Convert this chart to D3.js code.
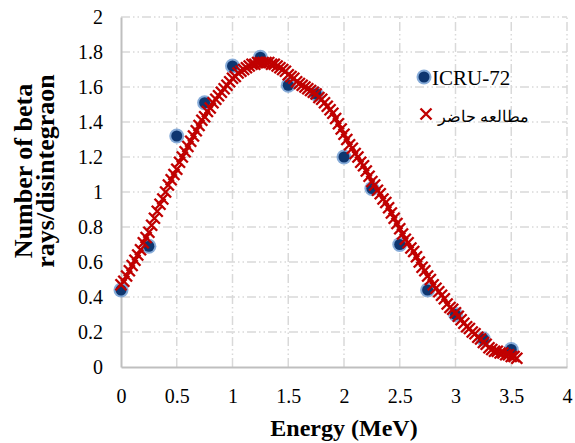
<!DOCTYPE html>
<html>
<head>
<meta charset="utf-8">
<script src="https://cdn.jsdelivr.net/npm/d3@7"></script>
<style>
  html, body { margin: 0; padding: 0; background: #fff; }
  svg { display: block; }
  text { font-family: "Liberation Serif", "Times New Roman", serif; fill: #000; }
</style>
</head>
<body>
<div id="chart"></div>
<script>
// ICRU-72 reference spectrum (blue dots)
const icruEnergy = [0, 0.25, 0.5, 0.75, 1.0, 1.25, 1.5, 1.75, 2.0, 2.25, 2.5, 2.75, 3.0, 3.25, 3.5];
const icruValue  = [0.44, 0.69, 1.32, 1.51, 1.72, 1.77, 1.61, 1.56, 1.20, 1.02, 0.70, 0.44, 0.30, 0.16, 0.10];

// present study (red crosses)
const studyEnergy = [
  0.000, 0.025, 0.050, 0.075, 0.100, 0.125, 0.150, 0.175, 0.200, 0.225,
  0.250, 0.275, 0.300, 0.325, 0.350, 0.375, 0.400, 0.425, 0.450, 0.475,
  0.500, 0.525, 0.550, 0.575, 0.600, 0.625, 0.650, 0.675, 0.700, 0.725,
  0.750, 0.775, 0.800, 0.825, 0.850, 0.875, 0.900, 0.925, 0.950, 0.975,
  1.000, 1.025, 1.050, 1.075, 1.100, 1.125, 1.150, 1.175, 1.200, 1.225,
  1.250, 1.275, 1.300, 1.325, 1.350, 1.375, 1.400, 1.425, 1.450, 1.475,
  1.500, 1.525, 1.550, 1.575, 1.600, 1.625, 1.650, 1.675, 1.700, 1.725,
  1.750, 1.775, 1.800, 1.825, 1.850, 1.875, 1.900, 1.925, 1.950, 1.975,
  2.000, 2.025, 2.050, 2.075, 2.100, 2.125, 2.150, 2.175, 2.200, 2.225,
  2.250, 2.275, 2.300, 2.325, 2.350, 2.375, 2.400, 2.425, 2.450, 2.475,
  2.500, 2.525, 2.550, 2.575, 2.600, 2.625, 2.650, 2.675, 2.700, 2.725,
  2.750, 2.775, 2.800, 2.825, 2.850, 2.875, 2.900, 2.925, 2.950, 2.975,
  3.000, 3.025, 3.050, 3.075, 3.100, 3.125, 3.150, 3.175, 3.200, 3.225,
  3.250, 3.275, 3.300, 3.325, 3.350, 3.375, 3.400, 3.425, 3.450, 3.475,
  3.500, 3.525, 3.550
];
const studyValue = [
  0.47, 0.49, 0.52, 0.55, 0.58, 0.61, 0.64, 0.67, 0.71, 0.74,
  0.77, 0.81, 0.85, 0.89, 0.93, 0.96, 1.00, 1.04, 1.07, 1.10,
  1.13, 1.17, 1.20, 1.23, 1.26, 1.29, 1.32, 1.35, 1.38, 1.41,
  1.43, 1.46, 1.48, 1.51, 1.53, 1.55, 1.57, 1.59, 1.61, 1.63,
  1.65, 1.66, 1.68, 1.69, 1.70, 1.71, 1.72, 1.73, 1.73, 1.74,
  1.74, 1.74, 1.74, 1.74, 1.73, 1.73, 1.72, 1.71, 1.70, 1.69,
  1.67, 1.66, 1.65, 1.63, 1.62, 1.61, 1.60, 1.59, 1.58, 1.57,
  1.56, 1.54, 1.53, 1.51, 1.49, 1.47, 1.45, 1.42, 1.39, 1.36,
  1.33, 1.30, 1.27, 1.25, 1.22, 1.20, 1.17, 1.15, 1.12, 1.09,
  1.06, 1.04, 1.01, 0.99, 0.96, 0.94, 0.91, 0.88, 0.85, 0.82,
  0.79, 0.76, 0.73, 0.71, 0.68, 0.66, 0.63, 0.60, 0.57, 0.55,
  0.52, 0.50, 0.47, 0.45, 0.43, 0.41, 0.39, 0.36, 0.34, 0.33,
  0.31, 0.29, 0.27, 0.25, 0.23, 0.22, 0.20, 0.19, 0.17, 0.16,
  0.14, 0.13, 0.11, 0.10, 0.09, 0.09, 0.08, 0.08, 0.07, 0.07,
  0.06, 0.06, 0.05
];

const xTicks = [0, 0.5, 1, 1.5, 2, 2.5, 3, 3.5, 4];
const yTicks = [0, 0.2, 0.4, 0.6, 0.8, 1, 1.2, 1.4, 1.6, 1.8, 2];
const legendLabels = ['ICRU-72', 'مطالعه حاضر'];

const W = 575, H = 443;
const margin = { top: 17, right: 8, bottom: 76, left: 121 };
const width = W - margin.left - margin.right;
const height = H - margin.top - margin.bottom;
const serif = '"Liberation Serif", "Times New Roman", serif';

const svg = d3.select('#chart').append('svg')
    .attr('width', W)
    .attr('height', H);

const g = svg.append('g')
    .attr('transform', `translate(${margin.left},${margin.top})`);

const x = d3.scaleLinear().domain([0, 4]).range([0, width]);
const y = d3.scaleLinear().domain([0, 2]).range([height, 0]);

// grid (dash-dot-dot like excel)
const gridDash = '9,3,1.5,3,1.5,3';
g.append('g').selectAll('line')
    .data(yTicks.filter(d => d > 0))
    .enter().append('line')
    .attr('x1', 0).attr('x2', width)
    .attr('y1', d => y(d)).attr('y2', d => y(d))
    .attr('stroke', '#d9d9d9').attr('stroke-width', 1.5)
    .attr('stroke-dasharray', gridDash);

g.append('g').selectAll('line')
    .data(xTicks.filter(d => d > 0))
    .enter().append('line')
    .attr('x1', d => x(d)).attr('x2', d => x(d))
    .attr('y1', height).attr('y2', 0)
    .attr('stroke', '#d9d9d9').attr('stroke-width', 1.5)
    .attr('stroke-dasharray', gridDash);

// axes
const xAxis = g.append('g')
    .attr('transform', `translate(0,${height})`)
    .call(d3.axisBottom(x).tickValues(xTicks).tickSize(0).tickPadding(22).tickFormat(d3.format('')));
const yAxis = g.append('g')
    .call(d3.axisLeft(y).tickValues(yTicks).tickSize(0).tickPadding(18).tickFormat(d3.format('')));

[xAxis, yAxis].forEach(a => {
    a.attr('font-family', null);
    a.select('.domain').attr('stroke', '#bfbfbf').attr('stroke-width', 2);
    a.selectAll('text')
        .style('font-family', serif)
        .style('font-size', '20px')
        .attr('fill', '#000');
});

// ICRU markers
const icru = icruEnergy.map((e, i) => ({ e, v: icruValue[i] }));
const blue = g.append('g');
blue.selectAll('circle.glow')
    .data(icru).enter().append('circle')
    .attr('class', 'glow')
    .attr('cx', d => x(d.e)).attr('cy', d => y(d.v))
    .attr('r', 7.5)
    .attr('fill', '#5f90cc').attr('opacity', 0.75);
blue.selectAll('circle.dot')
    .data(icru).enter().append('circle')
    .attr('class', 'dot')
    .attr('cx', d => x(d.e)).attr('cy', d => y(d.v))
    .attr('r', 5.5)
    .attr('fill', '#0e3670');

// present study markers
const study = studyEnergy.map((e, i) => ({ e, v: studyValue[i] }));
const cross = 'M-5.5,-5.5L5.5,5.5M-5.5,5.5L5.5,-5.5';
g.append('g').selectAll('path')
    .data(study).enter().append('path')
    .attr('d', cross)
    .attr('transform', d => `translate(${x(d.e)},${y(d.v)})`)
    .attr('stroke', '#c00000').attr('stroke-width', 2.4)
    .attr('fill', 'none');

// legend
const lg = svg.append('g');
lg.append('circle').attr('cx', 424).attr('cy', 77).attr('r', 7.5).attr('fill', '#5f90cc').attr('opacity', 0.75);
lg.append('circle').attr('cx', 424).attr('cy', 77).attr('r', 5.5).attr('fill', '#0e3670');
lg.append('text').attr('x', 432).attr('y', 85).style('font-size', '21px').text(legendLabels[0]);
lg.append('path').attr('d', cross).attr('transform', 'translate(426,114)')
    .attr('stroke', '#c00000').attr('stroke-width', 2.4).attr('fill', 'none');
lg.append('text').attr('x', 438).attr('y', 122)
    .attr('text-anchor', 'start')
    .style('font-size', '15.5px')
    .text(legendLabels[1]);

// axis titles
svg.append('text')
    .attr('x', margin.left + width / 2)
    .attr('y', 436)
    .attr('text-anchor', 'middle')
    .style('font-size', '24px').style('font-weight', 'bold')
    .text('Energy (MeV)');

const yt = svg.append('text')
    .attr('transform', 'translate(0,171) rotate(-90)')
    .attr('text-anchor', 'middle')
    .style('font-size', '26px').style('font-weight', 'bold');
yt.append('tspan').attr('x', 0).attr('y', 32).text('Number of beta');
yt.append('tspan').attr('x', 0).attr('y', 54).text('rays/disintegraon');
</script>
</body>
</html>
